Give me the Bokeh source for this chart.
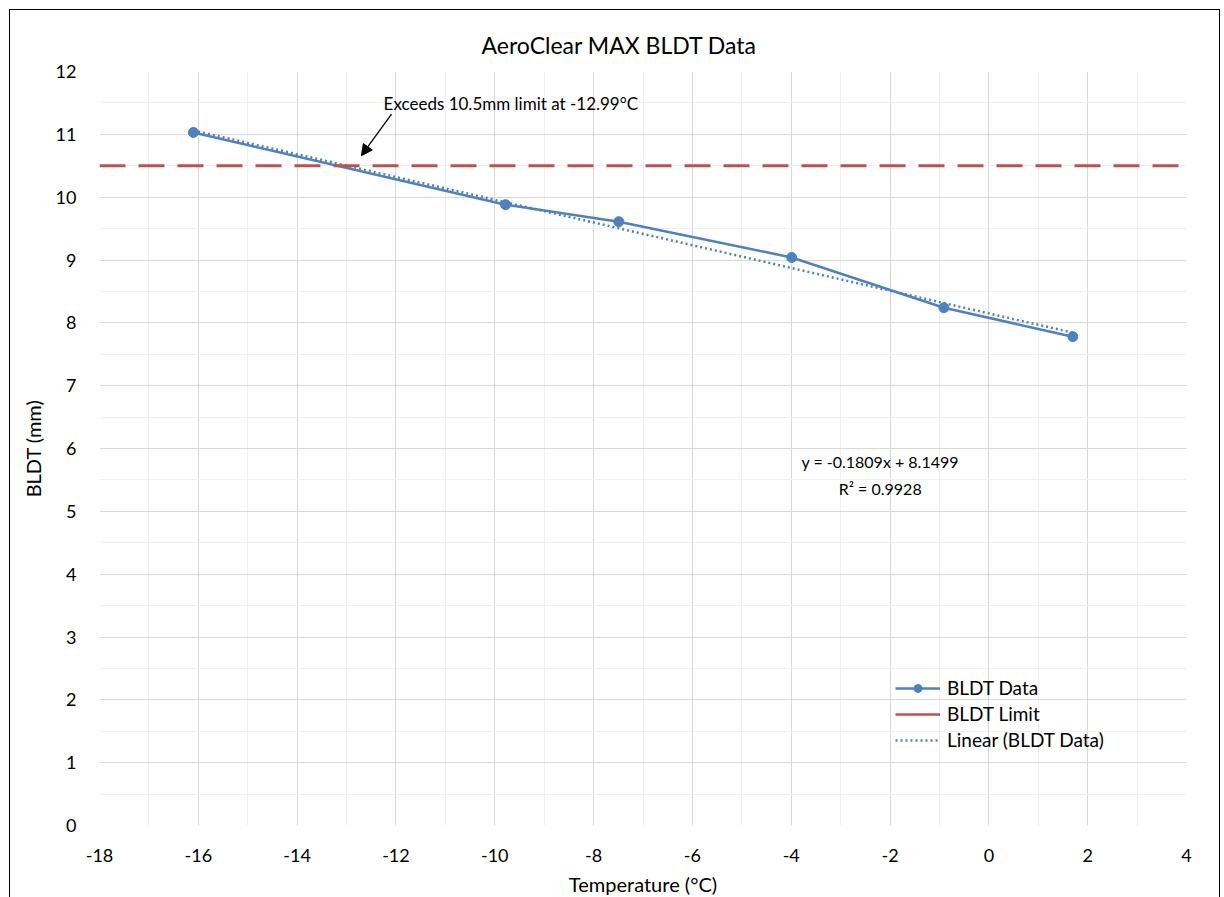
from bokeh.plotting import figure
from bokeh.models import (Span, Arrow, NormalHead, Label, Legend, LegendItem,
                          FixedTicker, ColumnDataSource)
from bokeh.embed import file_html
from bokeh.resources import INLINE

# ---- data ----
temperature = [-16.1, -9.78, -7.49, -3.99, -0.91, 1.70]
bldt = [11.03, 9.88, 9.61, 9.04, 8.24, 7.78]
limit_value = 10.5
trend_slope = -0.1809
trend_intercept = 8.1499
trend_r2 = 0.9928
exceed_temp = -12.99
x_ticks = [-18, -16, -14, -12, -10, -8, -6, -4, -2, 0, 2, 4]
y_ticks = [0, 1, 2, 3, 4, 5, 6, 7, 8, 9, 10, 11, 12]
title_text = "AeroClear MAX BLDT Data"
x_label = "Temperature (°C)"
y_label = "BLDT (mm)"

FONT = "Lato"
BLUE = "#4F81BD"
RED = "#C0504D"

p = figure(width=1211, height=890, x_range=(-18, 4), y_range=(0, 12),
           output_backend="svg", toolbar_location=None,
           min_border_left=89, min_border_right=35, min_border_top=61,
           min_border_bottom=75)
p.styles = {"border": "1px solid black", "margin": "9px 0 0 9px"}

p.title.text = title_text
p.title.align = "left"
p.title.vertical_align = "top"
p.title.offset = 382
p.title.standoff = 22
p.title.text_font = FONT
p.title.text_font_size = "23px"
p.title.text_font_style = "normal"
p.title.text_color = "#000000"

x_minor = [v + 1 for v in x_ticks[:-1]]
y_minor = [v + 0.5 for v in y_ticks[:-1]]
p.xaxis.ticker = FixedTicker(ticks=x_ticks, minor_ticks=x_minor)
p.yaxis.ticker = FixedTicker(ticks=y_ticks, minor_ticks=y_minor)
p.xaxis.major_label_overrides = {v: str(v) for v in x_ticks}
p.yaxis.major_label_overrides = {v: str(v) for v in y_ticks}
for ax in (p.xaxis[0], p.yaxis[0]):
    ax.axis_line_color = None
    ax.major_tick_line_color = None
    ax.minor_tick_line_color = None
    ax.major_label_text_font = FONT
    ax.major_label_text_font_size = "18px"
    ax.major_label_text_color = "#000000"
    ax.axis_label_text_font = FONT
    ax.axis_label_text_font_size = "20px"
    ax.axis_label_text_font_style = "normal"
    ax.axis_label_text_color = "#000000"
p.xaxis.axis_label = x_label
p.yaxis.axis_label = y_label
p.xaxis.major_label_standoff = 17
p.yaxis.major_label_standoff = 17
p.xaxis.axis_label_standoff = 7
p.yaxis.axis_label_standoff = 8

p.grid.grid_line_color = "#d9d9d9"
p.grid.minor_grid_line_color = "#f0f0f0"
p.outline_line_color = None

# limit line (dashed across whole plot)
span = Span(location=limit_value, dimension="width", line_color=RED,
            line_width=3, line_dash="26 13")
p.add_layout(span)

# trend line from coefficients over data range
tx = [min(temperature), max(temperature)]
ty = [trend_slope * v + trend_intercept for v in tx]
r_trend = p.line(tx, ty, line_color=BLUE, line_width=2.5, line_dash="2 3")

src = ColumnDataSource(dict(x=temperature, y=bldt))
r_line = p.line("x", "y", source=src, line_color=BLUE, line_width=2.5)
r_pts = p.scatter("x", "y", source=src, size=10, fill_color=BLUE, line_color=BLUE)

# legend-only solid red line (drawn outside the visible range)
r_limit = p.line([-40, -39], [limit_value, limit_value], line_color=RED, line_width=2.5)

legend = Legend(items=[
    LegendItem(label="BLDT Data", renderers=[r_line, r_pts]),
    LegendItem(label="BLDT Limit", renderers=[r_limit]),
    LegendItem(label="Linear (BLDT Data)", renderers=[r_trend]),
], location=(796, 74), glyph_width=45, glyph_height=20, label_height=20,
    spacing=3, padding=0, margin=0, label_standoff=7,
    background_fill_alpha=0, border_line_alpha=0,
    label_text_font=FONT, label_text_font_size="19px", label_text_color="#000000")
p.add_layout(legend)

# annotation arrow and text
p.add_layout(Arrow(end=NormalHead(size=11, fill_color="black", line_color="black"),
                   x_start=-12.09, y_start=11.32, x_end=-12.70, y_end=10.66,
                   line_color="black", line_width=1.3))
p.add_layout(Label(x=-12.25, y=11.49, text=f"Exceeds {limit_value}mm limit at {exceed_temp}°C",
                   text_font=FONT, text_font_size="17px", text_baseline="middle",
                   text_color="#000000"))

# trendline equation
p.add_layout(Label(x=-2.2, y=5.79, text=f"y = {trend_slope}x + {trend_intercept}",
                   text_font=FONT, text_font_size="16px", text_align="center",
                   text_baseline="middle", text_color="#000000"))
p.add_layout(Label(x=-2.2, y=5.36, text=f"R² = {trend_r2}",
                   text_font=FONT, text_font_size="16px", text_align="center",
                   text_baseline="middle", text_color="#000000"))

open("out.html", "w").write(file_html(p, INLINE))
